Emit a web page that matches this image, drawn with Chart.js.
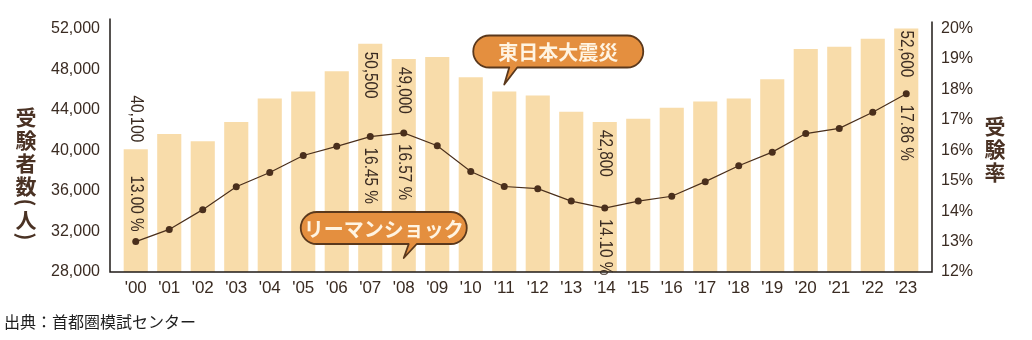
<!DOCTYPE html>
<html lang="ja">
<head>
<meta charset="utf-8">
<title>受験者数と受験率</title>
<script src="https://cdn.jsdelivr.net/npm/chart.js@4.4.1/dist/chart.umd.min.js"></script>
<style>
  html, body { margin: 0; padding: 0; background: #fff; }
  canvas { display: block; }
</style>
</head>
<body>
<canvas id="chart" width="1032" height="340"></canvas>
<script>
'use strict';

// ---------- データ ----------
const YEARS = ["'00", "'01", "'02", "'03", "'04", "'05", "'06", "'07", "'08", "'09", "'10", "'11",
               "'12", "'13", "'14", "'15", "'16", "'17", "'18", "'19", "'20", "'21", "'22", "'23"];
// 受験者数（人）
const CANDIDATES = [40100, 41600, 40900, 42800, 45100, 45800, 47800, 50500, 49000, 49200, 47200, 45800,
                    45400, 43800, 42800, 43100, 44200, 44800, 45100, 47000, 50000, 50200, 51000, 52600];
// 受験率（%）
const RATE = [13.00, 13.40, 14.05, 14.80, 15.27, 15.83, 16.13, 16.45, 16.57, 16.15, 15.30, 14.81,
              14.74, 14.33, 14.10, 14.33, 14.49, 14.97, 15.49, 15.94, 16.55, 16.72, 17.25, 17.86];
// 数値を書き込む年（インデックス）
const LABELED = [0, 7, 8, 14, 23];
// 目盛り
const LEFT_TICKS = [28000, 32000, 36000, 40000, 44000, 48000, 52000];
const RIGHT_TICKS = [12, 13, 14, 15, 16, 17, 18, 19, 20];
// 吹き出し（指す年のインデックス）
const CALLOUTS = [
  { text: '東日本大震災', idx: 11 },
  { text: 'リーマンショック', idx: 8 },
];
const SOURCE = '出典：首都圏模試センター';

// ---------- スタイル ----------
const BAR = '#f8dcaa';
const BROWN = '#4a2f1c';
const INK = '#3a2b22';
const ORANGE = '#e48f3f';
const NUM_FONT = '"Liberation Sans", Arial, sans-serif';
const JP_FONT = '"Noto Sans CJK JP", "Noto Sans", sans-serif';

const fmtInt = v => v.toLocaleString('en-US');
const fmtRate = v => v.toFixed(2) + ' %';

// 縦書きの数値ラベル（時計回り90°、字幅をやや詰める）
function vText(ctx, str, x, y, align) {
  ctx.save();
  ctx.translate(x, y);
  ctx.rotate(Math.PI / 2);
  ctx.scale(0.85, 1);
  ctx.textAlign = align;
  ctx.textBaseline = 'middle';
  ctx.fillText(str, 0, 0);
  ctx.restore();
}

// 縦書きの見出し
function vTitle(ctx, chars, cx, top, step) {
  ctx.save();
  ctx.fillStyle = '#4a3224';
  ctx.font = 'bold 21px ' + JP_FONT;
  ctx.textAlign = 'center';
  ctx.textBaseline = 'middle';
  let yy = top;
  chars.forEach(c => {
    if (c === '(' || c === ')') {
      const h = 9;
      ctx.save();
      ctx.translate(cx, yy + h / 2);
      ctx.rotate(Math.PI / 2);
      ctx.fillText(c, 0, 0);
      ctx.restore();
      yy += h + 2;
    } else {
      ctx.fillText(c, cx, yy + step / 2);
      yy += step;
    }
  });
  ctx.restore();
}

function bubble(ctx, c, tipX, tipY, left, top, w, h) {
  const r = h / 2, bottom = top + h;
  ctx.save();
  ctx.beginPath();
  ctx.moveTo(left + r, top);
  ctx.lineTo(left + w - r, top);
  ctx.arc(left + w - r, top + r, r, -Math.PI / 2, Math.PI / 2);
  ctx.lineTo(tipX + 13, bottom);
  ctx.lineTo(tipX, tipY);
  ctx.lineTo(tipX + 5, bottom);
  ctx.lineTo(left + r, bottom);
  ctx.arc(left + r, top + r, r, Math.PI / 2, Math.PI * 1.5);
  ctx.closePath();
  ctx.fillStyle = ORANGE;
  ctx.fill();
  ctx.lineWidth = 1.8;
  ctx.strokeStyle = '#5a381c';
  ctx.lineJoin = 'round';
  ctx.stroke();
  ctx.fillStyle = '#fff4e2';
  ctx.font = 'bold 20px ' + JP_FONT;
  ctx.textAlign = 'center';
  ctx.textBaseline = 'middle';
  ctx.fillText(c.text, left + w / 2, top + h / 2 + 1);
  ctx.restore();
}

const decorations = {
  id: 'decorations',
  afterDatasetsDraw(chart) {
    const { ctx, chartArea: a, scales: { x, y, y1 } } = chart;

    // 軸線
    ctx.save();
    ctx.strokeStyle = '#1f1a17';
    ctx.lineWidth = 1.5;
    ctx.beginPath();
    ctx.moveTo(a.left - 9, a.top - 10);
    ctx.lineTo(a.left - 9, a.bottom);
    ctx.lineTo(a.right + 9, a.bottom);
    ctx.lineTo(a.right + 9, a.top - 7);
    ctx.stroke();
    ctx.restore();

    // 数値ラベル
    ctx.save();
    ctx.fillStyle = INK;
    ctx.font = '18px ' + NUM_FONT;
    LABELED.forEach(i => {
      const px = x.getPixelForValue(i);
      const barTop = y.getPixelForValue(CANDIDATES[i]);
      const pt = y1.getPixelForValue(RATE[i]);
      if (i === 0) {
        vText(ctx, fmtInt(CANDIDATES[i]), px, barTop - 7, 'right');
        vText(ctx, fmtRate(RATE[i]), px, pt - 10, 'right');
      } else {
        vText(ctx, fmtInt(CANDIDATES[i]), px, barTop + 8, 'left');
        vText(ctx, fmtRate(RATE[i]), px, pt + 11, 'left');
      }
    });
    ctx.restore();

    // 吹き出し
    const quake = CALLOUTS[0], lehman = CALLOUTS[1];
    let tx = x.getPixelForValue(quake.idx), ty = y.getPixelForValue(CANDIDATES[quake.idx]) - 7;
    bubble(ctx, quake, tx, ty, tx - 31, ty - 49, 170, 32);
    tx = x.getPixelForValue(lehman.idx); ty = a.bottom - 14;
    bubble(ctx, lehman, tx, ty, tx - 103, ty - 46, 166, 32);
  },
  afterDraw(chart) {
    const { ctx } = chart;
    vTitle(ctx, ['受', '験', '者', '数', '(', '人', ')'], 26, 106, 23);
    vTitle(ctx, ['受', '験', '率'], 995, 115, 23);
    ctx.save();
    ctx.fillStyle = '#1e1e1e';
    ctx.font = '16px ' + JP_FONT;
    ctx.textBaseline = 'middle';
    ctx.fillText(SOURCE, 4, 322);
    ctx.restore();
  },
};

new Chart(document.getElementById('chart'), {
  data: {
    labels: YEARS,
    datasets: [
      { type: 'line', label: '受験率', data: RATE, yAxisID: 'y1', order: 1,
        borderColor: BROWN, borderWidth: 1.2, tension: 0,
        pointRadius: 3.5, pointBackgroundColor: BROWN, pointBorderWidth: 0 },
      { type: 'bar', label: '受験者数', data: CANDIDATES, yAxisID: 'y', order: 2,
        backgroundColor: BAR, barPercentage: 0.72, categoryPercentage: 1 },
    ],
  },
  options: {
    responsive: false, animation: false,
    layout: { padding: { top: 25, left: 0, right: 0, bottom: 0 } },
    plugins: { legend: { display: false }, tooltip: { enabled: false } },
    scales: {
      x: {
        offset: true,
        grid: { display: false, drawTicks: false }, border: { display: false },
        ticks: { color: INK, font: { family: NUM_FONT, size: 17 }, padding: 6, maxRotation: 0 },
        afterFit: s => { s.height = 68; },
      },
      y: {
        position: 'left', min: 28000, max: 52000,
        grid: { display: false, drawTicks: false }, border: { display: false },
        afterBuildTicks: s => { s.ticks = LEFT_TICKS.map(v => ({ value: v })); },
        ticks: { color: INK, font: { family: NUM_FONT, size: 16 },
                 padding: 19, callback: v => fmtInt(v) },
        afterFit: s => { s.width = 119; },
      },
      y1: {
        position: 'right', min: 12, max: 20,
        grid: { display: false, drawTicks: false }, border: { display: false },
        afterBuildTicks: s => { s.ticks = RIGHT_TICKS.map(v => ({ value: v })); },
        ticks: { color: INK, font: { family: NUM_FONT, size: 16 },
                 padding: 18, callback: v => v + '%' },
        afterFit: s => { s.width = 109; },
      },
    },
  },
  plugins: [decorations],
});
</script>
</body>
</html>
